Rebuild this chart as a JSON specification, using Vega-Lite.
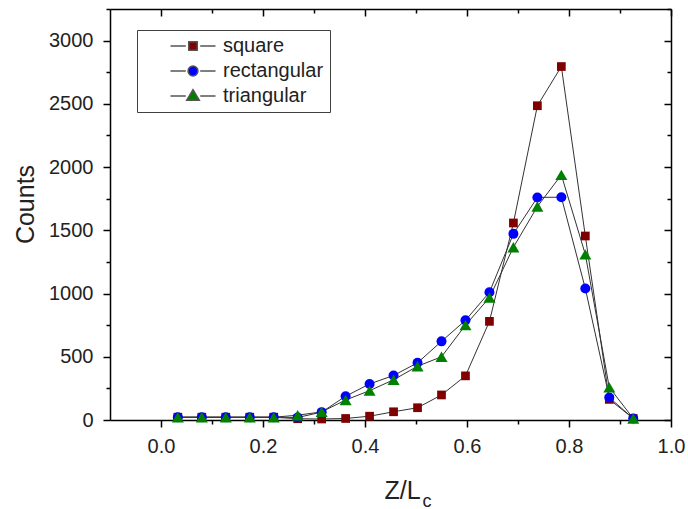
{
  "$schema": "https://vega.github.io/schema/vega-lite/v6.json",
  "width": 561,
  "height": 411,
  "autosize": "none",
  "padding": {"left": 110, "top": 9, "right": 17, "bottom": 89},
  "background": "white",
  "config": {
    "view": {"stroke": null},
    "font": "Liberation Sans",
    "axis": {"grid": false, "domainColor": "#000", "tickColor": "#000", "domainWidth": 1.5, "tickWidth": 1.5, "labelColor": "#222", "titleColor": "#222", "labelFont": "Liberation Sans", "titleFont": "Liberation Sans", "titleFontWeight": "normal"},
    "legend": {"labelFont": "Liberation Sans"}
  },
  "data": {"values": [
    {"x": 0.033, "series": "square", "count": 22},
    {"x": 0.080, "series": "square", "count": 22},
    {"x": 0.127, "series": "square", "count": 22},
    {"x": 0.174, "series": "square", "count": 22},
    {"x": 0.221, "series": "square", "count": 22},
    {"x": 0.268, "series": "square", "count": 10},
    {"x": 0.315, "series": "square", "count": 8},
    {"x": 0.362, "series": "square", "count": 12},
    {"x": 0.409, "series": "square", "count": 30},
    {"x": 0.456, "series": "square", "count": 65},
    {"x": 0.503, "series": "square", "count": 97},
    {"x": 0.550, "series": "square", "count": 198},
    {"x": 0.597, "series": "square", "count": 349},
    {"x": 0.644, "series": "square", "count": 780},
    {"x": 0.691, "series": "square", "count": 1558},
    {"x": 0.738, "series": "square", "count": 2485},
    {"x": 0.785, "series": "square", "count": 2795},
    {"x": 0.832, "series": "square", "count": 1455},
    {"x": 0.879, "series": "square", "count": 163},
    {"x": 0.926, "series": "square", "count": 12},
    {"x": 0.033, "series": "rectangular", "count": 22},
    {"x": 0.080, "series": "rectangular", "count": 22},
    {"x": 0.127, "series": "rectangular", "count": 22},
    {"x": 0.174, "series": "rectangular", "count": 22},
    {"x": 0.221, "series": "rectangular", "count": 22},
    {"x": 0.268, "series": "rectangular", "count": 20},
    {"x": 0.315, "series": "rectangular", "count": 62},
    {"x": 0.362, "series": "rectangular", "count": 188},
    {"x": 0.409, "series": "rectangular", "count": 285},
    {"x": 0.456, "series": "rectangular", "count": 352},
    {"x": 0.503, "series": "rectangular", "count": 452},
    {"x": 0.550, "series": "rectangular", "count": 622},
    {"x": 0.597, "series": "rectangular", "count": 788},
    {"x": 0.644, "series": "rectangular", "count": 1010},
    {"x": 0.691, "series": "rectangular", "count": 1472},
    {"x": 0.738, "series": "rectangular", "count": 1760},
    {"x": 0.785, "series": "rectangular", "count": 1762},
    {"x": 0.832, "series": "rectangular", "count": 1040},
    {"x": 0.879, "series": "rectangular", "count": 178},
    {"x": 0.926, "series": "rectangular", "count": 12},
    {"x": 0.033, "series": "triangular", "count": 22},
    {"x": 0.080, "series": "triangular", "count": 22},
    {"x": 0.127, "series": "triangular", "count": 22},
    {"x": 0.174, "series": "triangular", "count": 22},
    {"x": 0.221, "series": "triangular", "count": 22},
    {"x": 0.268, "series": "triangular", "count": 38},
    {"x": 0.315, "series": "triangular", "count": 64},
    {"x": 0.362, "series": "triangular", "count": 158},
    {"x": 0.409, "series": "triangular", "count": 232},
    {"x": 0.456, "series": "triangular", "count": 318},
    {"x": 0.503, "series": "triangular", "count": 425},
    {"x": 0.550, "series": "triangular", "count": 500},
    {"x": 0.597, "series": "triangular", "count": 750},
    {"x": 0.644, "series": "triangular", "count": 968},
    {"x": 0.691, "series": "triangular", "count": 1366},
    {"x": 0.738, "series": "triangular", "count": 1688},
    {"x": 0.785, "series": "triangular", "count": 1938},
    {"x": 0.832, "series": "triangular", "count": 1310},
    {"x": 0.879, "series": "triangular", "count": 258},
    {"x": 0.926, "series": "triangular", "count": 12}
  ]},
  "resolve": {"axis": {"x": "independent", "y": "independent"}},
  "layer": [
    {
      "mark": {"type": "line", "color": "#333333", "strokeWidth": 1},
      "encoding": {
        "x": {"field": "x", "type": "quantitative", "scale": {"domain": [-0.1, 1.0], "nice": false, "zero": false},
          "axis": {"orient": "bottom", "values": [0, 0.2, 0.4, 0.6, 0.8, 1.0], "format": ".1f", "tickSize": 7, "labelFontSize": 20, "labelPadding": 9, "labelFlush": false, "labelOverlap": false,
            "title": "Z/L", "titleFontSize": 25, "titleAlign": "left", "titleAnchor": "start", "titleBaseline": "alphabetic", "titleX": 274, "titleY": 78}},
        "y": {"field": "count", "type": "quantitative", "scale": {"domain": [0, 3250], "nice": false, "zero": false},
          "axis": {"orient": "left", "values": [0, 500, 1000, 1500, 2000, 2500, 3000], "format": "d", "tickSize": 7, "labelFontSize": 20, "labelPadding": 10, "labelFlush": false, "labelOverlap": false,
            "title": "Counts", "titleFontSize": 25, "titleAngle": -90, "titleAlign": "center", "titleBaseline": "alphabetic", "titleX": -77, "titleY": 195}},
        "detail": {"field": "series"}
      }
    },
    {
      "mark": {"type": "point", "filled": true, "opacity": 1,
        "shape": {"expr": "datum.series ? (datum.series === 'square' ? 'square' : datum.series === 'rectangular' ? 'circle' : 'triangle-up') : (datum.value === 'square' ? 'M-5,0H-1.6M1.6,0H5M-0.95,-0.95H0.95V0.95H-0.95Z' : datum.value === 'rectangular' ? 'M-5,0H-1.6M1.6,0H5M-1.1,0A1.1,1.1,0,1,0,1.1,0A1.1,1.1,0,1,0,-1.1,0Z' : 'M-5,0H-1.6M1.6,0H5M0,-1.4L1.4,0.95H-1.4Z')"},
        "stroke": {"expr": "datum.series ? null : '#555555'"},
        "strokeWidth": 1,
        "size": {"expr": "datum.series === 'square' ? 76 : datum.series === 'rectangular' ? 100 : 144"}},
      "encoding": {
        "x": {"field": "x", "type": "quantitative", "axis": {"orient": "top", "values": [0, 0.2, 0.4, 0.6, 0.8, 1.0], "tickSize": -7, "labels": false, "title": null}},
        "y": {"field": "count", "type": "quantitative", "axis": {"orient": "right", "values": [0, 500, 1000, 1500, 2000, 2500, 3000], "tickSize": -7, "labels": false, "title": null}},
        "color": {"field": "series", "type": "nominal",
          "scale": {"domain": ["square", "rectangular", "triangular"], "range": ["#800000", "#0000ff", "#008000"]},
          "legend": {"orient": "none", "legendX": 27, "legendY": 21, "title": null, "strokeColor": "#404040", "padding": 6, "labelFontSize": 20, "labelColor": "#222", "rowPadding": 5, "symbolSize": 81, "symbolOffset": 40, "labelOffset": 20}}
      }
    },
    {
      "mark": {"type": "point", "opacity": 0},
      "encoding": {
        "x": {"field": "x", "type": "quantitative", "axis": {"orient": "bottom", "values": [0.1, 0.3, 0.5, 0.7, 0.9], "tickSize": 4, "labels": false, "domain": false,
          "title": "c", "titleFontSize": 18, "titleAlign": "left", "titleAnchor": "start", "titleBaseline": "alphabetic", "titleX": 312, "titleY": 86}},
        "y": {"field": "count", "type": "quantitative", "axis": {"orient": "left", "values": [250, 750, 1250, 1750, 2250, 2750, 3250], "tickSize": 4, "labels": false, "domain": false, "title": null}}
      }
    },
    {
      "mark": {"type": "point", "opacity": 0},
      "encoding": {
        "x": {"field": "x", "type": "quantitative", "axis": {"orient": "top", "values": [0.1, 0.3, 0.5, 0.7, 0.9], "tickSize": -4, "labels": false, "domain": false, "title": null}},
        "y": {"field": "count", "type": "quantitative", "axis": {"orient": "right", "values": [250, 750, 1250, 1750, 2250, 2750, 3250], "tickSize": -4, "labels": false, "domain": false, "title": null}}
      }
    }
  ]
}
